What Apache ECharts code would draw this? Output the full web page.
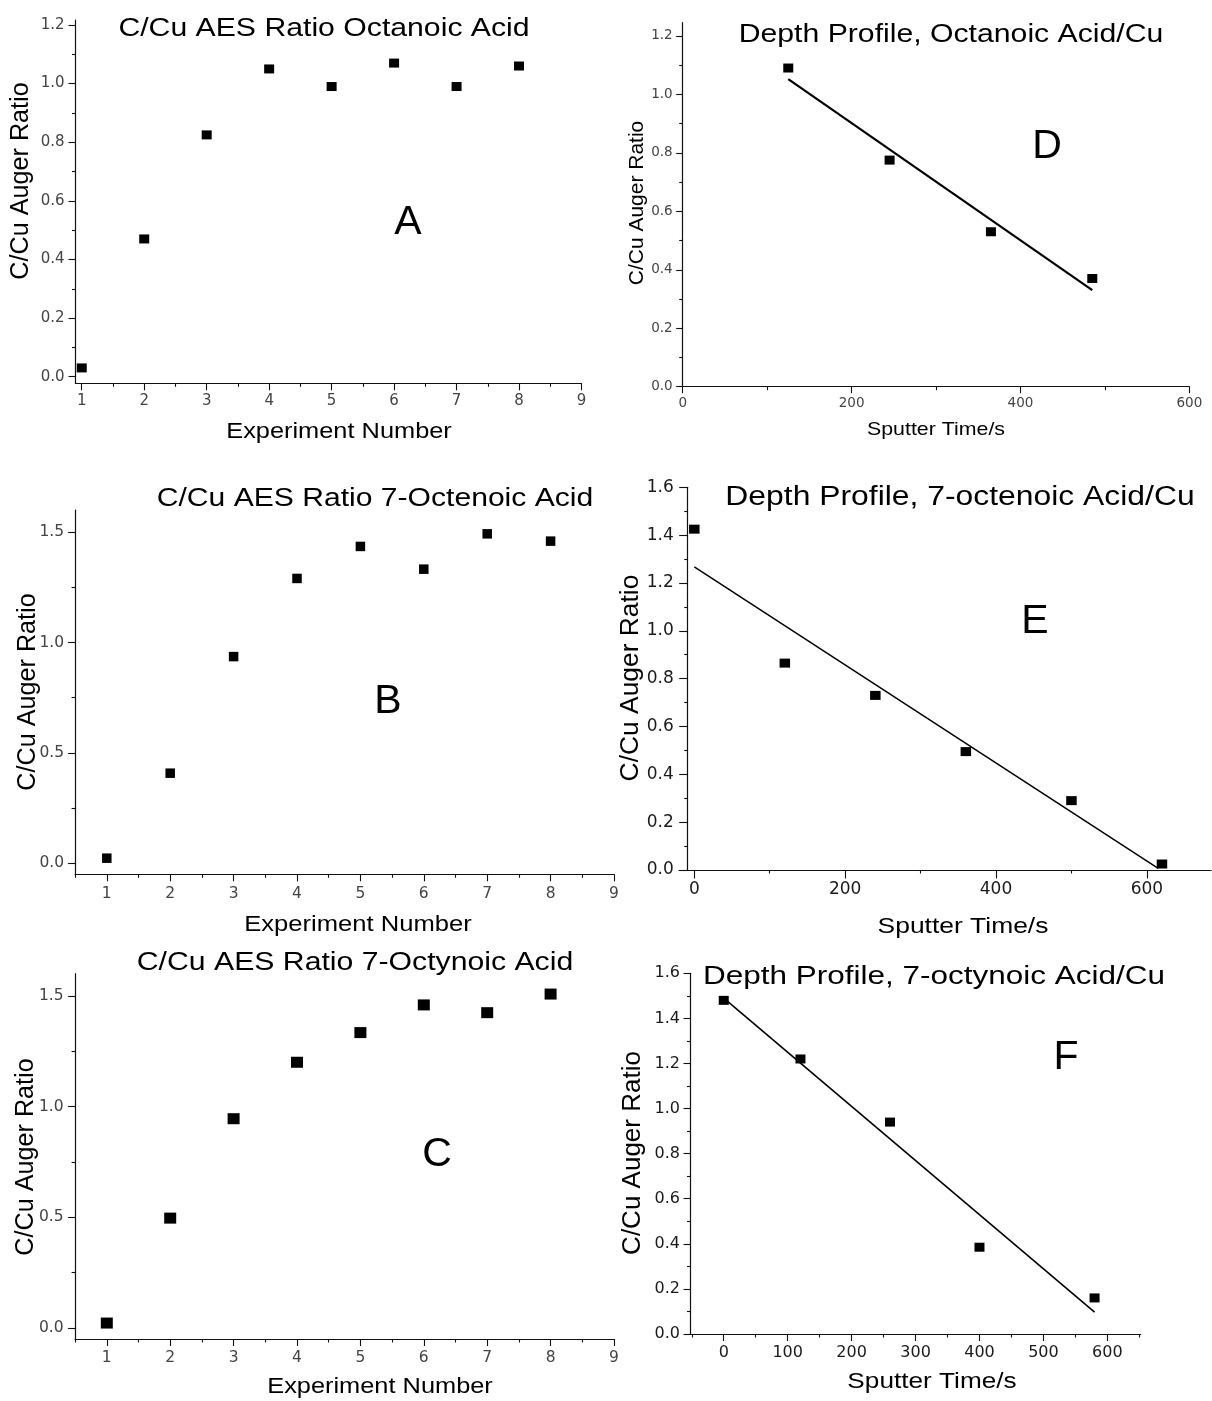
<!DOCTYPE html>
<html>
<head>
<meta charset="utf-8">
<script src="https://cdn.jsdelivr.net/npm/echarts@6.0.0/dist/echarts.min.js"></script>
<style>
  html, body { margin: 0; padding: 0; background: #fff; }
  #chart { width: 1212px; height: 1401px; }
</style>
</head>
<body>
<div id="chart"></div>
<script>
// AES C/Cu ratios per experiment
var expNumbers = [1, 2, 3, 4, 5, 6, 7, 8];
var ratioOctanoic = [0.03, 0.47, 0.825, 1.05, 0.99, 1.07, 0.99, 1.06];
var ratioOctenoic = [0.023, 0.408, 0.936, 1.29, 1.435, 1.332, 1.492, 1.459];
var ratioOctynoic = [0.022, 0.496, 0.945, 1.2, 1.334, 1.459, 1.424, 1.508];

// depth profiles (sputter time in s)
var timeOctanoic = [125, 245, 365, 485];
var depthOctanoic = [1.09, 0.775, 0.53, 0.37];
var timeOctenoic = [0, 120, 240, 360, 500, 620];
var depthOctenoic = [1.425, 0.865, 0.73, 0.495, 0.29, 0.025];
var timeOctynoic = [0, 120, 260, 400, 580];
var depthOctynoic = [1.48, 1.22, 0.94, 0.385, 0.16];

// linear fits, end points
var fitOctanoic = [[125, 1.052], [485, 0.330]];
var fitOctenoic = [[0, 1.267], [615, 0.007]];
var fitOctynoic = [[0, 1.49], [580, 0.097]];

// tick values
var expTicks = [1, 2, 3, 4, 5, 6, 7, 8, 9];
var expMinor = [0.5, 1.5, 2.5, 3.5, 4.5, 5.5, 6.5, 7.5, 8.5];
var ratioTicks12 = [0, 0.2, 0.4, 0.6, 0.8, 1.0, 1.2];
var ratioMinor12 = [0.1, 0.3, 0.5, 0.7, 0.9, 1.1];
var ratioTicks15 = [0, 0.5, 1.0, 1.5];
var ratioMinor15 = [0.25, 0.75, 1.25];
var ratioTicks16 = [0, 0.2, 0.4, 0.6, 0.8, 1.0, 1.2, 1.4, 1.6];
var ratioMinor16 = [0.1, 0.3, 0.5, 0.7, 0.9, 1.1, 1.3, 1.5];
var timeTicks200 = [0, 200, 400, 600];
var timeMinor200 = [100, 300, 500];
var timeTicks100 = [0, 100, 200, 300, 400, 500, 600];
var timeMinor100 = [-50, 50, 150, 250, 350, 450, 550, 650];

var SX = 1.18; // the source figure is stretched horizontally
var FONT = '"Liberation Sans", Arial, sans-serif';

function pairs(xs, ys) {
    return xs.map(function (x, i) { return [x, ys[i]]; });
}
function fmt1(v) { return v.toFixed(1); }
function fmt0(v) { return String(v); }

var panels = [
    {   // A
        box: [75.5, 20, 506, 363.3], x: [0.9, 9], y: [-0.0225, 1.217],
        xTicks: expTicks, xMinor: expMinor, yTicks: ratioTicks12, yMinor: ratioMinor12,
        data: pairs(expNumbers, ratioOctanoic), marker: [10, 9],
        tick: { size: 15, color: '#444', xm: 10, ym: 11, len: 7 },
        title: ['C/Cu AES Ratio Octanoic Acid', 324, 29, 25.6],
        letter: ['A', 408, 223],
        xName: ['Experiment Number', 339, 432, 21.5],
        yName: ['C/Cu Auger Ratio', 21.5, 181, 25.2]
    },
    {   // D
        box: [682.7, 22.7, 506.7, 364], x: [0, 600], y: [0, 1.245],
        xTicks: timeTicks200, xMinor: timeMinor200, yTicks: ratioTicks12, yMinor: ratioMinor12,
        data: pairs(timeOctanoic, depthOctanoic), marker: [10, 9],
        fit: fitOctanoic, fitWidth: 2.2,
        tick: { size: 13.5, color: '#444', xm: 10, ym: 10, len: 6.5 },
        title: ['Depth Profile, Octanoic Acid/Cu', 951, 35, 25.6],
        letter: ['D', 1047, 147],
        xName: ['Sputter Time/s', 936, 430, 18.1],
        yName: ['C/Cu Auger Ratio', 637, 203, 21]
    },
    {   // B
        box: [75.1, 510, 538.9, 364.3], x: [0.5, 9], y: [-0.05, 1.6],
        xTicks: expTicks, xMinor: expMinor, yTicks: ratioTicks15, yMinor: ratioMinor15,
        data: pairs(expNumbers, ratioOctenoic), marker: [9.5, 9.5],
        tick: { size: 15.5, color: '#444', xm: 12, ym: 11, len: 7 },
        title: ['C/Cu AES Ratio 7-Octenoic Acid', 375, 499, 25.5],
        letter: ['B', 388, 702],
        xName: ['Experiment Number', 358, 925, 21.7],
        yName: ['C/Cu Auger Ratio', 28, 692, 25.2]
    },
    {   // E: x axis runs a little past the y axis on the left
        box: [679, 487.3, 532, 382.7], x: [-20.3, 685], y: [0, 1.6], yOffset: -8.7,
        xTicks: timeTicks200, xMinor: timeMinor200, yTicks: ratioTicks16, yMinor: ratioMinor16,
        data: pairs(timeOctenoic, depthOctenoic), marker: [10.5, 9],
        fit: fitOctenoic, fitWidth: 1.5,
        tick: { size: 17, color: '#1a1a1a', xm: 11, ym: 14, len: 8.5 },
        title: ['Depth Profile, 7-octenoic Acid/Cu', 960, 498, 27],
        letter: ['E', 1035, 622],
        xName: ['Sputter Time/s', 963, 927, 22.4],
        yName: ['C/Cu Auger Ratio', 631, 678, 26.4]
    },
    {   // C
        box: [75.1, 973.7, 538.9, 365.3], x: [0.5, 9], y: [-0.05, 1.6],
        xTicks: expTicks, xMinor: expMinor, yTicks: ratioTicks15, yMinor: ratioMinor15,
        data: pairs(expNumbers, ratioOctynoic), marker: [12, 11],
        tick: { size: 15.5, color: '#444', xm: 11, ym: 11.5, len: 7 },
        title: ['C/Cu AES Ratio 7-Octynoic Acid', 355, 963, 25.6],
        letter: ['C', 437, 1155],
        xName: ['Experiment Number', 380, 1387, 21.5],
        yName: ['C/Cu Auger Ratio', 26, 1157, 25.2]
    },
    {   // F
        box: [690.5, 973.3, 450.1, 360.7], x: [-52, 652], y: [0, 1.6],
        xTicks: timeTicks100, xMinor: timeMinor100, yTicks: ratioTicks16, yMinor: ratioMinor16,
        data: pairs(timeOctynoic, depthOctynoic), marker: [10, 9],
        fit: fitOctynoic, fitWidth: 1.6,
        tick: { size: 16, color: '#1a1a1a', xm: 11, ym: 10.5, len: 7 },
        title: ['Depth Profile, 7-octynoic Acid/Cu', 934, 977, 26.7],
        letter: ['F', 1066, 1058],
        xName: ['Sputter Time/s', 932, 1382, 22.2],
        yName: ['C/Cu Auger Ratio', 633, 1153, 26]
    }
];

function within(vals, r) {
    return vals.filter(function (v) { return v >= r[0] - 1e-9 && v <= r[1] + 1e-9; });
}

function mainAxis(gi, pos, range, ticks, formatter, t, margin, offset) {
    return {
        type: 'value', gridIndex: gi, position: pos, min: range[0], max: range[1], offset: offset || 0,
        axisLine: { show: true, onZero: false, lineStyle: { color: '#111', width: 1.2 } },
        axisTick: { show: true, inside: false, length: t.len, customValues: within(ticks, range),
            lineStyle: { color: '#111', width: 1.1 } },
        axisLabel: { show: true, margin: margin, customValues: within(ticks, range), formatter: formatter,
            fontFamily: '"DejaVu Sans", sans-serif', fontSize: t.size, color: t.color },
        splitLine: { show: false }
    };
}

function minorAxis(gi, pos, range, minors, offset) {
    return {
        type: 'value', gridIndex: gi, position: pos, min: range[0], max: range[1], offset: offset || 0,
        axisLine: { show: false, onZero: false },
        axisTick: { show: true, inside: false, length: 3.5, customValues: within(minors, range),
            lineStyle: { color: '#111', width: 1.1 } },
        axisLabel: { show: false },
        splitLine: { show: false }
    };
}

function text(str, x, y, size, extra) {
    var el = {
        type: 'text', x: x, y: y, silent: true,
        style: {
            text: str, font: size + 'px ' + FONT, fill: '#000',
            align: 'center', verticalAlign: 'middle',
            textAlign: 'center', textVerticalAlign: 'middle'
        }
    };
    for (var k in extra) { el[k] = extra[k]; }
    return el;
}

var option = {
    animation: false,
    backgroundColor: '#fff',
    grid: [], xAxis: [], yAxis: [], series: [], graphic: []
};

panels.forEach(function (p, i) {
    option.grid.push({ left: p.box[0], top: p.box[1], width: p.box[2], height: p.box[3] });
    option.xAxis.push(mainAxis(i, 'bottom', p.x, p.xTicks, fmt0, p.tick, p.tick.xm, 0));
    option.xAxis.push(minorAxis(i, 'bottom', p.x, p.xMinor, 0));
    option.yAxis.push(mainAxis(i, 'left', p.y, p.yTicks, fmt1, p.tick, p.tick.ym, p.yOffset));
    option.yAxis.push(minorAxis(i, 'left', p.y, p.yMinor, p.yOffset));

    if (p.fit) {
        option.series.push({
            type: 'line', xAxisIndex: 2 * i, yAxisIndex: 2 * i, data: p.fit,
            symbol: 'none', silent: true,
            lineStyle: { color: '#000', width: p.fitWidth }
        });
    }
    option.series.push({
        type: 'scatter', xAxisIndex: 2 * i, yAxisIndex: 2 * i, data: p.data,
        symbol: 'rect', symbolSize: p.marker, silent: true,
        itemStyle: { color: '#000', opacity: 1 }
    });

    option.graphic.push(text(p.title[0], p.title[1], p.title[2], p.title[3], { scaleX: SX }));
    option.graphic.push(text(p.letter[0], p.letter[1], p.letter[2], 41, {}));
    option.graphic.push(text(p.xName[0], p.xName[1], p.xName[2], p.xName[3], { scaleX: SX }));
    option.graphic.push(text(p.yName[0], p.yName[1], p.yName[2], p.yName[3],
        { rotation: Math.PI / 2 }));
});

var myChart = echarts.init(document.getElementById('chart'));
myChart.setOption(option);
</script>
</body>
</html>
